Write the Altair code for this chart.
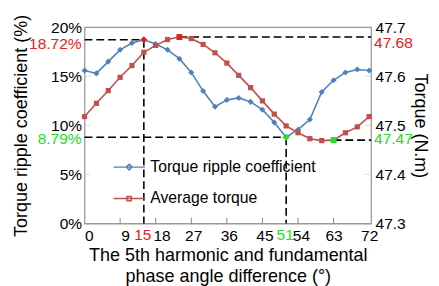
import altair as alt
import pandas as pd

# ---------------- data ----------------
angles = list(range(0, 75, 3))
ripple = [15.6, 15.3, 16.5, 17.7, 18.4, 18.72, 18.3, 17.7, 16.8, 15.4, 13.5, 11.9,
          12.6, 12.8, 12.4, 11.6, 10.3, 8.79, 9.57, 10.6, 13.4, 14.6, 15.4, 15.7, 15.6]
torque = [47.518, 47.545, 47.571, 47.598, 47.622, 47.649, 47.663, 47.675, 47.68,
          47.677, 47.665, 47.648, 47.627, 47.602, 47.577, 47.55, 47.523, 47.499,
          47.485, 47.473, 47.469, 47.47, 47.485, 47.497, 47.518]

x_ticks = [0, 9, 18, 27, 36, 45, 54, 63, 72]
left_ticks = [0, 5, 10, 15, 20]
right_ticks = [47.3, 47.4, 47.5, 47.6, 47.7]

series_names = ["Torque ripple coefficient", "Average torque"]

# highlighted points
max_ripple_angle, max_ripple = 15, 18.72
min_ripple_angle, min_ripple = 51, 8.79
max_torque_angle, max_torque = 24, 47.68
min_torque_angle, min_torque = 63, 47.47
x_end = 72.5

BLUE = "#4f81bd"
RED = "#c0504d"
HRED = "#e3211c"
HGREEN = "#22e022"
FONT = "Liberation Sans"
FS = 15.8

W, H = 292, 200

# ---------------- scales / axes ----------------
x_scale = alt.Scale(domain=[0, x_end], nice=False, zero=False)
yl_scale = alt.Scale(domain=[0, 20], nice=False, zero=False)
yr_scale = alt.Scale(domain=[47.3, 47.7], nice=False, zero=False)

x_label_offset = {"condition": [{"test": "datum.value == 9", "value": 5},
                                {"test": "datum.value == 18", "value": 6},
                                {"test": "datum.value == 54", "value": 3},
                                {"test": "datum.value == 27 || datum.value == 36 || datum.value == 45",
                                 "value": 2}],
                  "value": 0}

x_axis = alt.Axis(values=x_ticks, ticks=False, tickSize=0, domain=False, grid=False,
                  labelPadding=5, labelFontSize=FS, labelColor="black", labelOverlap=False,
                  labelOffset=x_label_offset,
                  title=["The 5th harmonic and fundamental", "phase angle difference (°)"],
                  titleFontSize=18.3, titleFontWeight="normal", titleColor="black",
                  titleLineHeight=21, titleBaseline="top", titleY=24, titleX=W / 2,
                  titleAlign="center")
yl_axis = alt.Axis(orient="left", values=left_ticks, labelExpr="datum.value + '%'",
                   ticks=False, tickSize=0, domain=False, grid=False, labelPadding=3,
                   labelFontSize=FS, labelColor="black", labelOverlap=False,
                   title="Torque ripple coefficient (%)", titleFontSize=18.3,
                   titleFontWeight="normal", titleColor="black", titleAngle=270,
                   titleX=-64, titleY=H / 2, titleBaseline="middle", titleAlign="center")
yr_axis = alt.Axis(orient="right", values=right_ticks, format=".1f",
                   ticks=False, tickSize=0, domain=False, grid=False, labelPadding=4,
                   labelFontSize=FS, labelColor="black", labelOverlap=False,
                   title="Torque (N.m)", titleFontSize=18.3,
                   titleFontWeight="normal", titleColor="black", titleAngle=90,
                   titleX=49, titleY=H / 2, titleBaseline="middle", titleAlign="center")


def X(f="angle"):
    return alt.X(f"{f}:Q", scale=x_scale, axis=x_axis)


def YL(f="v"):
    return alt.Y(f"{f}:Q", scale=yl_scale, axis=yl_axis)


def YR(f="v"):
    return alt.Y(f"{f}:Q", scale=yr_scale, axis=yr_axis)


df = pd.DataFrame({"angle": angles, "ripple": ripple, "torque": torque})

# dashed guide segments
seg_left = pd.DataFrame({
    "angle": [0, max_ripple_angle, 0, min_ripple_angle],
    "a2": [max_ripple_angle, max_ripple_angle, min_ripple_angle, min_ripple_angle],
    "v": [max_ripple, max_ripple, min_ripple, min_ripple],
    "v2": [max_ripple, 0, min_ripple, 0],
})
seg_right = pd.DataFrame({
    "angle": [max_torque_angle, min_torque_angle],
    "a2": [x_end, x_end],
    "v": [max_torque, min_torque],
    "v2": [max_torque, min_torque],
})

dash = dict(color="black", strokeWidth=1.6, strokeDash=[8, 4])


def point_chart(a, v, yenc, color, shape, size):
    d = pd.DataFrame({"angle": [a], "v": [v]})
    return alt.Chart(d).mark_point(shape=shape, filled=True, color=color, size=size,
                                   opacity=1).encode(x=X(), y=yenc())


def text_chart(a, v, t, yenc, color, **kw):
    d = pd.DataFrame({"angle": [a], "v": [v], "t": [t]})
    return alt.Chart(d).mark_text(color=color, fontSize=FS, **kw).encode(
        x=X(), y=yenc(), text="t:N")


# ---------------- left (ripple) layers ----------------
blue_line = alt.Chart(df).mark_line(color=BLUE, strokeWidth=1.6).encode(x=X(), y=YL("ripple"))
blue_pts = alt.Chart(df).mark_point(shape="diamond", filled=True, color=BLUE, size=38,
                                    opacity=1).encode(x=X(), y=YL("ripple"))
left_rules = alt.Chart(seg_left).mark_rule(**dash).encode(
    x=X(), x2="a2:Q", y=YL(), y2="v2:Q")

hl1 = point_chart(max_ripple_angle, max_ripple, YL, HRED, "diamond", 50)
hl2 = point_chart(min_ripple_angle, min_ripple, YL, HGREEN, "diamond", 50)

t1 = text_chart(0, max_ripple, "18.72%", YL, HRED, align="right", baseline="middle", dx=-3, dy=4)
t2 = text_chart(0, min_ripple, "8.79%", YL, HGREEN, align="right", baseline="middle", dx=-3, dy=2)
t3 = text_chart(max_ripple_angle, 0, "15", YL, HRED, align="center", baseline="top", dy=5, dx=-1)
t4 = text_chart(min_ripple_angle, 0, "51", YL, HGREEN, align="center", baseline="top", dy=5, dx=-1)

# small inward ticks
xt = pd.DataFrame({"angle": x_ticks[1:-1], "v": [0] * (len(x_ticks) - 2)})
x_tick_marks = alt.Chart(xt).mark_tick(orient="vertical", size=6, thickness=1, color="#555",
                                        yOffset=-3).encode(x=X(), y=YL())
ltk = pd.DataFrame({"angle": [0, 0, 0], "v": left_ticks[1:-1]})
l_tick_marks = alt.Chart(ltk).mark_tick(orient="horizontal", size=6, thickness=1, color="#cfcfcf",
                                         xOffset=3).encode(x=X(), y=YL())

# legend layer (symbols: line + marker)
leg_df = pd.DataFrame({"name": series_names})
legend_paths = [
    "M-1.1,0H1.1M0,-0.2L0.2,0L0,0.2L-0.2,0Z",
    "M-1.1,0H1.1M-0.15,-0.15H0.15V0.15H-0.15Z",
]
leg_kw = dict(title=None, orient="none", legendX=30, legendY=127,
              symbolSize=841, symbolStrokeWidth=1.5, symbolOpacity=1,
              labelFontSize=16, labelColor="black", labelOffset=6,
              rowPadding=8, padding=0, labelLimit=400)
legend_layer = alt.Chart(leg_df).mark_point(filled=False, opacity=0, strokeWidth=1.5).encode(
    color=alt.Color("name:N", scale=alt.Scale(domain=series_names, range=[BLUE, RED]),
                    legend=alt.Legend(**leg_kw)),
    shape=alt.Shape("name:N", scale=alt.Scale(domain=series_names, range=legend_paths),
                    legend=alt.Legend(**leg_kw)),
)

left = alt.layer(l_tick_marks, x_tick_marks, left_rules, blue_line, blue_pts, hl1, hl2,
                 t1, t2, t3, t4)

# ---------------- right (torque) layers ----------------
red_line = alt.Chart(df).mark_line(color=RED, strokeWidth=1.6).encode(x=X(), y=YR("torque"))
red_pts = alt.Chart(df).mark_point(shape="square", filled=True, color=RED, size=28,
                                   opacity=1).encode(x=X(), y=YR("torque"))
right_rules = alt.Chart(seg_right).mark_rule(**dash).encode(
    x=X(), x2="a2:Q", y=YR(), y2="v2:Q")
hl3 = point_chart(max_torque_angle, max_torque, YR, HRED, "square", 36)
hl4 = point_chart(min_torque_angle, min_torque, YR, HGREEN, "square", 36)
t5 = text_chart(x_end, max_torque, "47.68", YR, HRED, align="left", baseline="middle", dx=3, dy=6)
t6 = text_chart(x_end, min_torque, "47.47", YR, HGREEN, align="left", baseline="middle", dx=3, dy=-1)
rtk = pd.DataFrame({"angle": [x_end] * 3, "v": right_ticks[1:-1]})
r_tick_marks = alt.Chart(rtk).mark_tick(orient="horizontal", size=6, thickness=1, color="#cfcfcf",
                                         xOffset=-3).encode(x=X(), y=YR())

right = alt.layer(r_tick_marks, right_rules, red_line, red_pts, hl3, hl4, t5, t6)

chart = alt.layer(left, right, legend_layer).resolve_scale(y="independent").properties(
    width=W, height=H,
    padding={"left": 78, "top": 17, "right": 61, "bottom": 61},
    autosize=alt.AutoSizeParams(type="none"),
).configure(font=FONT).configure_view(stroke="#9a9a9a", strokeWidth=1.3).configure_text(
    font=FONT).configure_legend(labelFont=FONT)

chart.save("out.html", embed_options={"renderer": "svg", "actions": False})
